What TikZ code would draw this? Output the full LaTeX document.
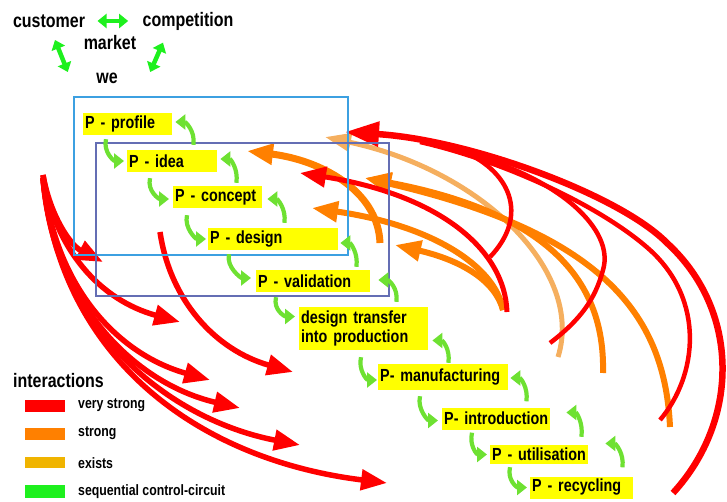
\documentclass[tikz,border=0pt]{standalone}
\usepackage{fontspec}
\setmainfont{Liberation Sans}[FakeStretch=0.82]
\usepackage{xcolor}
\usepackage{tikz}
\usetikzlibrary{positioning,calc}
\usetikzlibrary{arrows.meta}
\definecolor{vsred}{RGB}{255,0,0}
\definecolor{sorange}{RGB}{255,128,0}
\definecolor{exorange}{RGB}{245,175,95}
\definecolor{exgold}{RGB}{240,180,0}
\definecolor{seqgreen}{RGB}{110,225,50}
\definecolor{legreen}{RGB}{30,240,30}
\definecolor{outerblue}{RGB}{60,160,225}
\definecolor{innerblue}{RGB}{100,110,180}
\definecolor{labyellow}{RGB}{255,255,0}

\begin{document}
\begin{tikzpicture}[x=1pt,y=-1pt,
    stage/.style={fill=labyellow, anchor=west, inner xsep=2pt, inner ysep=0pt, minimum height=22pt, align=left, font=\bfseries\fontsize{17.5}{19}\selectfont},
    head/.style={font=\bfseries\fontsize{19.5}{21}\selectfont},
    legtext/.style={anchor=west, inner sep=0pt, font=\bfseries\fontsize{15}{16}\selectfont},
    seq/.style={draw=seqgreen, line width=4.2pt, -{Triangle[length=10pt,width=15pt]}},
    dbl/.style={draw=legreen, line width=4.5pt, {Triangle[length=9pt,width=14pt]}-{Triangle[length=9pt,width=14pt]}},
    vstrong/.style={draw=vsred, line width=5.5pt, -{Triangle[length=26pt,width=20pt]}},
    vsthin/.style={draw=vsred, line width=4.5pt},
    strong/.style={draw=sorange, line width=6pt, -{Triangle[length=26pt,width=20pt]}},
    exists/.style={draw=exorange, line width=5pt, -{Triangle[length=26pt,width=18pt]}}]
\useasboundingbox (0,0) rectangle (727,502);

% market triangle
\node[head] (customer) at (49,21) {customer};
\node[head] (competition) at (188,21) {competition};
\node[head] (market) at (110,43) {market};
\node[head] (we) at (107,78) {we};
\draw[dbl] ($(customer.east)+(9,0)$) -- ($(competition.west)+(-11,0)$);
\draw[dbl] ($(customer.south)+(6,9)$) -- ($(we.west)+(-25,-6)$);
\draw[dbl] ($(competition.south)+(-25,9)$) -- ($(we.east)+(29,-6)$);

% interactions from the left
\draw[vstrong] (43,175) .. controls (50,215) and (70,245) .. (103,262);
\draw[vstrong] (43,175) .. controls (55,250) and (100,300) .. (180,322);
\draw[vstrong] (43,178) .. controls (55,290) and (120,355) .. (210,380);
\draw[vstrong] (43,178) .. controls (55,310) and (140,385) .. (240,408);
\draw[vstrong] (43,178) .. controls (55,330) and (170,420) .. (300,445);
\draw[vstrong] (43,178) .. controls (60,360) and (200,460) .. (387,483);
\draw[vstrong] (160,232) .. controls (170,300) and (215,350) .. (293,372);

% interactions from the right
\draw[exists] (558,357) .. controls (585,270) and (480,170) .. (325,137);
\draw[strong] (603,373) .. controls (605,290) and (560,215) .. (365,178);
\draw[strong] (670,427) .. controls (665,320) and (610,235) .. (365,178);
\draw[strong] (503,310) .. controls (495,265) and (430,225) .. (312,208);
\draw[strong] (503,310) .. controls (495,280) and (460,260) .. (395,245);
\draw[strong, line width=7pt] (380,243) .. controls (378,190) and (320,160) .. (247,151);
\draw[vsthin] (660,420) .. controls (698,375) and (705,300) .. (650,250) .. controls (600,205) and (500,160) .. (420,142);
\draw[vsthin] (475,156) .. controls (560,180) and (615,230) .. (603,270) .. controls (595,300) and (580,320) .. (550,343);
\draw[vsthin] (460,150) .. controls (510,170) and (530,215) .. (490,257);
\draw[vstrong, line width=5pt] (507,312) .. controls (505,250) and (440,195) .. (300,173);
\draw[vstrong, line width=6.5pt, -{Triangle[length=34pt,width=24pt]}] (673,493) .. controls (740,420) and (740,310) .. (667,243) .. controls (620,195) and (470,140) .. (345,132);

% phases
\draw[outerblue, line width=1.5pt] (74,97) rectangle (348,255);
\draw[innerblue, line width=1.5pt] (96,143) rectangle (389,296);

\node[stage, text width=85pt] (profile) at (83,124) {P - profile};
\node[stage, text width=86pt] (idea) at (127,161) {P - idea};
\node[stage, text width=85pt] (concept) at (173,197) {P - concept};
\node[stage, text width=126pt] (design) at (208,239) {P - design};
\node[stage, text width=110pt] (validation) at (256,281) {P - validation};
\node[stage, text width=125pt, minimum height=43pt] (transfer) at (299,328.5) {design transfer\\into production};
\node[stage, text width=126pt, minimum height=26pt] (manufacturing) at (378,377) {P- manufacturing};
\node[stage, text width=104pt] (introduction) at (442,418.5) {P- introduction};
\node[stage, text width=94pt, minimum height=19pt] (utilisation) at (490,454.5) {P - utilisation};
\node[stage, text width=99pt] (recycling) at (530,487.5) {P - recycling};

% sequential control-circuit, down
\draw[seq] ($(profile.south west)+(23,4)$) .. controls +(-3,13) and +(-10,0) .. ($(idea.west)+(-3,0)$);
\draw[seq] ($(idea.south west)+(23,6)$) .. controls +(-3,13) and +(-10,0) .. ($(concept.west)+(-4,2)$);
\draw[seq] ($(concept.south west)+(14,7)$) .. controls +(-3,13) and +(-10,0) .. ($(design.west)+(-2,0)$);
\draw[seq] ($(design.south west)+(21,4)$) .. controls +(-3,13) and +(-10,0) .. ($(validation.west)+(-5,-3)$);
\draw[seq] ($(validation.south west)+(20,5)$) .. controls +(-3,13) and +(-10,0) .. ($(transfer.west)+(-4,-12)$);
\draw[seq] ($(transfer.south west)+(62,7)$) .. controls +(-3,13) and +(-10,0) .. ($(manufacturing.west)+(-1,3)$);
\draw[seq] ($(manufacturing.south west)+(42,6)$) .. controls +(-3,13) and +(-10,0) .. ($(introduction.west)+(-4,2)$);
\draw[seq] ($(introduction.south west)+(30,3)$) .. controls +(-3,13) and +(-10,0) .. ($(utilisation.west)+(-3,0)$);
\draw[seq] ($(utilisation.south west)+(20,3)$) .. controls +(-3,13) and +(-10,0) .. ($(recycling.west)+(-3,0)$);

% sequential control-circuit, back
\draw[seq] ($(idea.north east)+(-24,-5)$) .. controls +(2,-14) and +(10,0) .. ($(profile.east)+(3,-2)$);
\draw[seq] ($(concept.north east)+(-26,-3)$) .. controls +(2,-14) and +(10,0) .. ($(idea.east)+(3,-2)$);
\draw[seq] ($(design.north east)+(-54,-5)$) .. controls +(2,-14) and +(10,0) .. ($(concept.east)+(5,2)$);
\draw[seq] ($(validation.north east)+(-14,-3)$) .. controls +(2,-14) and +(10,0) .. ($(design.east)+(2,4)$);
\draw[seq] ($(transfer.north east)+(-32,-5)$) .. controls +(2,-14) and +(10,0) .. ($(validation.east)+(8,-1)$);
\draw[seq] ($(manufacturing.north east)+(-60,-1)$) .. controls +(2,-14) and +(10,0) .. ($(transfer.east)+(4,12)$);
\draw[seq] ($(introduction.north east)+(-24,-6)$) .. controls +(2,-14) and +(10,0) .. ($(manufacturing.east)+(2,1)$);
\draw[seq] ($(utilisation.north east)+(-7,-8)$) .. controls +(2,-14) and +(10,0) .. ($(introduction.east)+(16,-6)$);
\draw[seq] ($(recycling.north east)+(-11,-9)$) .. controls +(2,-14) and +(10,0) .. ($(utilisation.east)+(17,-11)$);

% legend
\node[head, anchor=west, inner sep=0pt] (interactions) at (13,381) {interactions};
\fill[vsred] (25,400) rectangle (65,412);
\fill[sorange] (25,428) rectangle (65,440);
\fill[exgold] (25,457) rectangle (65,468);
\fill[legreen] (25,485) rectangle (65,498);
\node[legtext] (lvs) at (78,405) {very strong};
\node[legtext] (ls) at (78,433) {strong};
\node[legtext] (le) at (78,463) {exists};
\node[legtext] (lsc) at (78,492) {sequential control-circuit};
\end{tikzpicture}
\end{document}
